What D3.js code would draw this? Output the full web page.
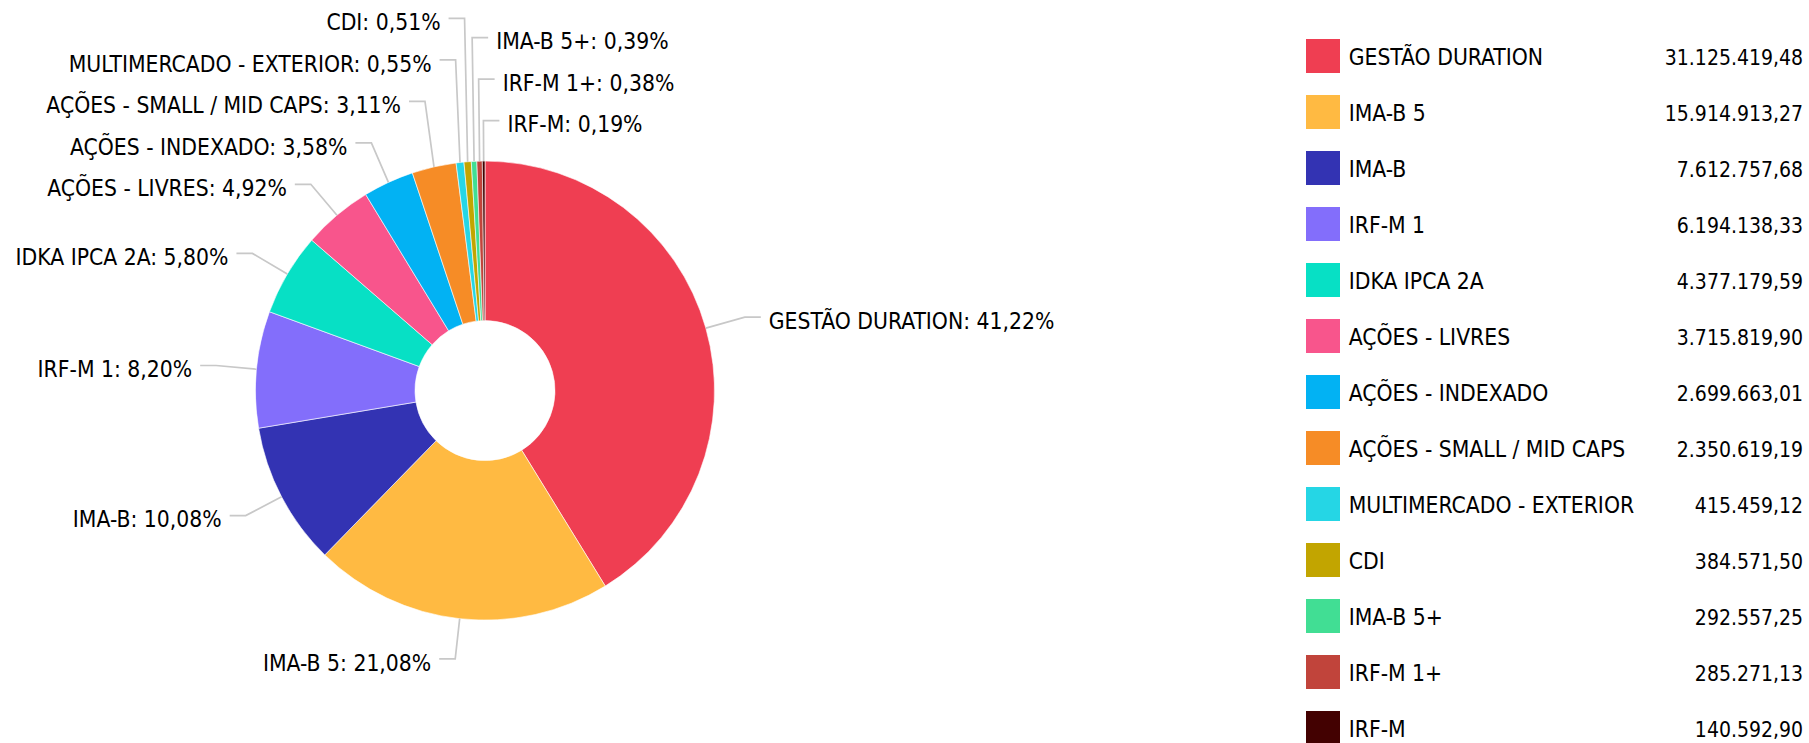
<!DOCTYPE html>
<html><head><meta charset="utf-8">
<script src="https://cdn.jsdelivr.net/npm/d3@7"></script>
<style>
html,body{margin:0;padding:0;background:#fff;overflow:hidden}
svg{display:block}
text{font-family:"DejaVu Sans Condensed","DejaVu Sans",sans-serif;font-stretch:condensed;font-size:22.7px;fill:#000}
text.val{font-size:21px}
</style></head><body>
<svg id="chart" width="1809" height="743"></svg>
<script>
const categories = ["GESTÃO DURATION","IMA-B 5","IMA-B","IRF-M 1","IDKA IPCA 2A","AÇÕES - LIVRES","AÇÕES - INDEXADO","AÇÕES - SMALL / MID CAPS","MULTIMERCADO - EXTERIOR","CDI","IMA-B 5+","IRF-M 1+","IRF-M"];
const values = [31125419.48,15914913.27,7612757.68,6194138.33,4377179.59,3715819.90,2699663.01,2350619.19,415459.12,384571.50,292557.25,285271.13,140592.90];
const colors = ["#ef3e52","#ffba42","#3333b3","#836efb","#07e0c5","#f8558c","#02b2f3","#f68c26","#25d6e5","#c2a500","#41de94","#c1443b","#430101"];

const W = 1809, H = 743;
const cx = 485, cy = 390.6, R = 229.5, r0 = 70, labelR = 270, spacing = 41.5, tickLen = 16, gap = 8;

const locale = d3.formatLocale({decimal: ",", thousands: ".", grouping: [3], currency: ["R$", ""]});
const fmtVal = locale.format(",.2f");
const fmtPct = locale.format(".2f");

const data = categories.map((c, i) => ({name: c, value: values[i], color: colors[i]}));
const total = d3.sum(values);

const svg = d3.select("#chart");
const g = svg.append("g").attr("transform", `translate(${cx},${cy})`);

const pie = d3.pie().sort(null).value(d => d.value);
const arcs = pie(data);
const arc = d3.arc().innerRadius(r0).outerRadius(R);

const colorScale = d3.scaleOrdinal().domain(categories).range(colors);

g.selectAll("path.slice").data(arcs).join("path")
  .attr("class", "slice")
  .attr("d", arc)
  .attr("fill", d => colorScale(d.data.name))
  .attr("stroke", "#fff")
  .attr("stroke-width", 0.6);

// label layout
const labels = arcs.map(a => {
  const m = (a.startAngle + a.endAngle) / 2;
  const s = Math.sin(m), c = Math.cos(m);
  return {
    a, m, s, c,
    side: s > -0.06 ? 1 : -1,
    ax: s * R, ay: -c * R,
    bx: s * labelR, ny: -c * labelR,
    text: a.data.name + ": " + fmtPct(a.data.value / total * 100) + "%"
  };
});
// right side: bottom first = largest signed angle; left side: bottom first = smallest angle
const rightGroup = labels.filter(l => l.side === 1)
  .sort((p, q) => (q.m > Math.PI ? q.m - 2 * Math.PI : q.m) - (p.m > Math.PI ? p.m - 2 * Math.PI : p.m));
const leftGroup = labels.filter(l => l.side === -1).sort((p, q) => p.m - q.m);
[rightGroup, leftGroup].forEach(group => {
  group.forEach((l, i) => {
    l.y = i === 0 ? l.ny : Math.min(l.ny, group[i - 1].y - spacing);
  });
});

const lab = g.selectAll("g.lab").data(labels).join("g").attr("class", "lab");
lab.append("polyline")
  .attr("points", l => [[l.ax, l.ay], [l.bx, l.y], [l.bx + l.side * tickLen, l.y]].map(p => p.join(",")).join(" "))
  .attr("fill", "none")
  .attr("stroke", "#c8c8c8")
  .attr("stroke-width", 1.7);
lab.append("text")
  .attr("x", l => l.bx + l.side * (tickLen + gap))
  .attr("y", l => l.y + 11.8)
  .attr("text-anchor", l => l.side === 1 ? "start" : "end")
  .text(l => l.text);

// legend
const legX = 1306, legY = 39, rowH = 56, sw = 34;
const leg = svg.append("g").selectAll("g").data(data).join("g")
  .attr("transform", (d, i) => `translate(${legX},${legY + i * rowH})`);
leg.append("rect").attr("width", sw).attr("height", sw).attr("fill", d => colorScale(d.name));
leg.append("text").attr("x", 42.7).attr("y", 26.3).text(d => d.name);
leg.append("text").attr("class", "val").attr("x", 1803 - legX).attr("y", 26.3).attr("text-anchor", "end").text(d => fmtVal(d.value));
</script>
</body></html>
